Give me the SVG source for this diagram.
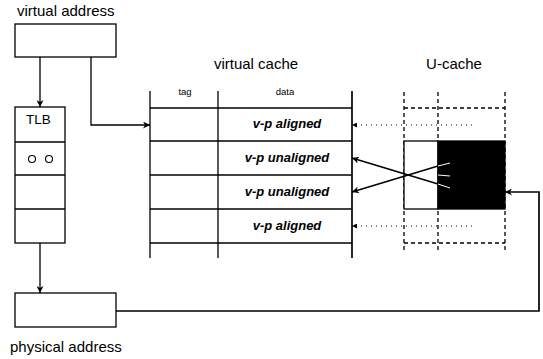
<svg xmlns="http://www.w3.org/2000/svg" width="543" height="359" viewBox="0 0 543 359">
<defs>
<style>
.t{font-family:"Liberation Sans",Arial,sans-serif;fill:#000}
.lbl{font-size:15px}
.sm{font-size:9.5px}
.bi{font-size:13px;font-weight:bold;font-style:italic;text-anchor:middle}
.box{fill:#fff;stroke:#000;stroke-width:1.3}
.ln{fill:none;stroke:#000;stroke-width:1.3}
.th{fill:none;stroke:#000;stroke-width:1.7}
.dash{fill:none;stroke:#000;stroke-width:1.3;stroke-dasharray:4 3}
.dot{fill:none;stroke:#000;stroke-width:1;stroke-dasharray:1 4}
</style>
<marker id="ah" viewBox="0 0 10 10" refX="10" refY="5" markerWidth="9" markerHeight="7" orient="auto" markerUnits="userSpaceOnUse"><path d="M0,0 L10,5 L0,10 L3,5 z" fill="#000"/></marker>
<marker id="ahs" viewBox="0 0 10 10" refX="10" refY="5" markerWidth="6" markerHeight="5" orient="auto" markerUnits="userSpaceOnUse"><path d="M0,0 L10,5 L0,10 z" fill="#000"/></marker>
</defs>
<rect width="543" height="359" fill="#fff"/>

<g id="virtual-address">
<text class="t lbl" x="17" y="16">virtual address</text>
<rect class="box" x="15" y="24" width="101" height="33"/>
</g>

<g id="tlb">
<rect class="box" x="15" y="107" width="50" height="136"/>
<line class="ln" x1="15" y1="142" x2="65" y2="142"/>
<line class="ln" x1="15" y1="175" x2="65" y2="175"/>
<line class="ln" x1="15" y1="209" x2="65" y2="209"/>
<text class="t" x="26" y="124" font-size="13.5">TLB</text>
<circle cx="32" cy="159" r="3.5" fill="none" stroke="#000" stroke-width="1.1"/>
<circle cx="49" cy="159" r="3.5" fill="none" stroke="#000" stroke-width="1.1"/>
</g>

<g id="physical-address">
<rect class="box" x="15" y="293" width="101" height="34"/>
<text class="t lbl" x="10" y="352">physical address</text>
</g>

<g id="virtual-cache">
<text class="t lbl" x="256" y="69" text-anchor="middle">virtual cache</text>
<text class="t sm" x="185" y="95" text-anchor="middle">tag</text>
<text class="t sm" x="285" y="95" text-anchor="middle">data</text>
<line class="ln" x1="150" y1="91" x2="150" y2="258"/>
<line class="ln" x1="218" y1="91" x2="218" y2="258"/>
<line class="th" x1="352" y1="91" x2="352" y2="258"/>
<line class="ln" x1="150" y1="108" x2="352" y2="108"/>
<line class="th" x1="150" y1="141" x2="352" y2="141"/>
<line class="ln" x1="150" y1="175" x2="352" y2="175"/>
<line class="ln" x1="150" y1="209" x2="352" y2="209"/>
<line class="th" x1="150" y1="243" x2="352" y2="243"/>
<text class="t bi" x="287" y="128">v-p aligned</text>
<text class="t bi" x="287" y="162">v-p unaligned</text>
<text class="t bi" x="287" y="196">v-p unaligned</text>
<text class="t bi" x="287" y="230">v-p aligned</text>
</g>

<g id="u-cache">
<text class="t lbl" x="454" y="69" text-anchor="middle">U-cache</text>
<line class="dash" x1="404" y1="92" x2="404" y2="253"/>
<line class="dash" x1="438" y1="92" x2="438" y2="253"/>
<line class="dash" x1="505" y1="92" x2="505" y2="253"/>
<line class="dash" x1="404" y1="108" x2="505" y2="108"/>
<line class="dash" x1="404" y1="243" x2="505" y2="243"/>
<rect class="box" x="404" y="141" width="34" height="68"/>
<rect x="438" y="141" width="67" height="68" fill="#000" stroke="#000" stroke-width="1.3"/>
</g>

<g id="connectors">
<line class="ln" x1="40" y1="57" x2="40" y2="107" marker-end="url(#ah)"/>
<polyline class="ln" points="91,57 91,125 150,125" marker-end="url(#ah)"/>
<line class="ln" x1="40" y1="243" x2="40" y2="293" marker-end="url(#ah)"/>
<polyline class="th" points="116,311 539,311 539,192 505,192" marker-end="url(#ah)"/>
<line class="dot" x1="472" y1="125" x2="352" y2="125" marker-end="url(#ahs)"/>
<line class="dot" x1="472" y1="226" x2="352" y2="226" marker-end="url(#ahs)"/>
<line class="th" x1="438" y1="184" x2="352" y2="158" marker-end="url(#ah)"/>
<line class="th" x1="438" y1="166" x2="352" y2="192" marker-end="url(#ah)"/>
<line stroke="#fff" stroke-width="1" x1="450" y1="188" x2="438" y2="184"/>
<line stroke="#fff" stroke-width="1" x1="450" y1="163" x2="438" y2="166"/>
<line stroke="#fff" stroke-width="1" x1="450" y1="176" x2="438" y2="175"/>
</g>
</svg>
